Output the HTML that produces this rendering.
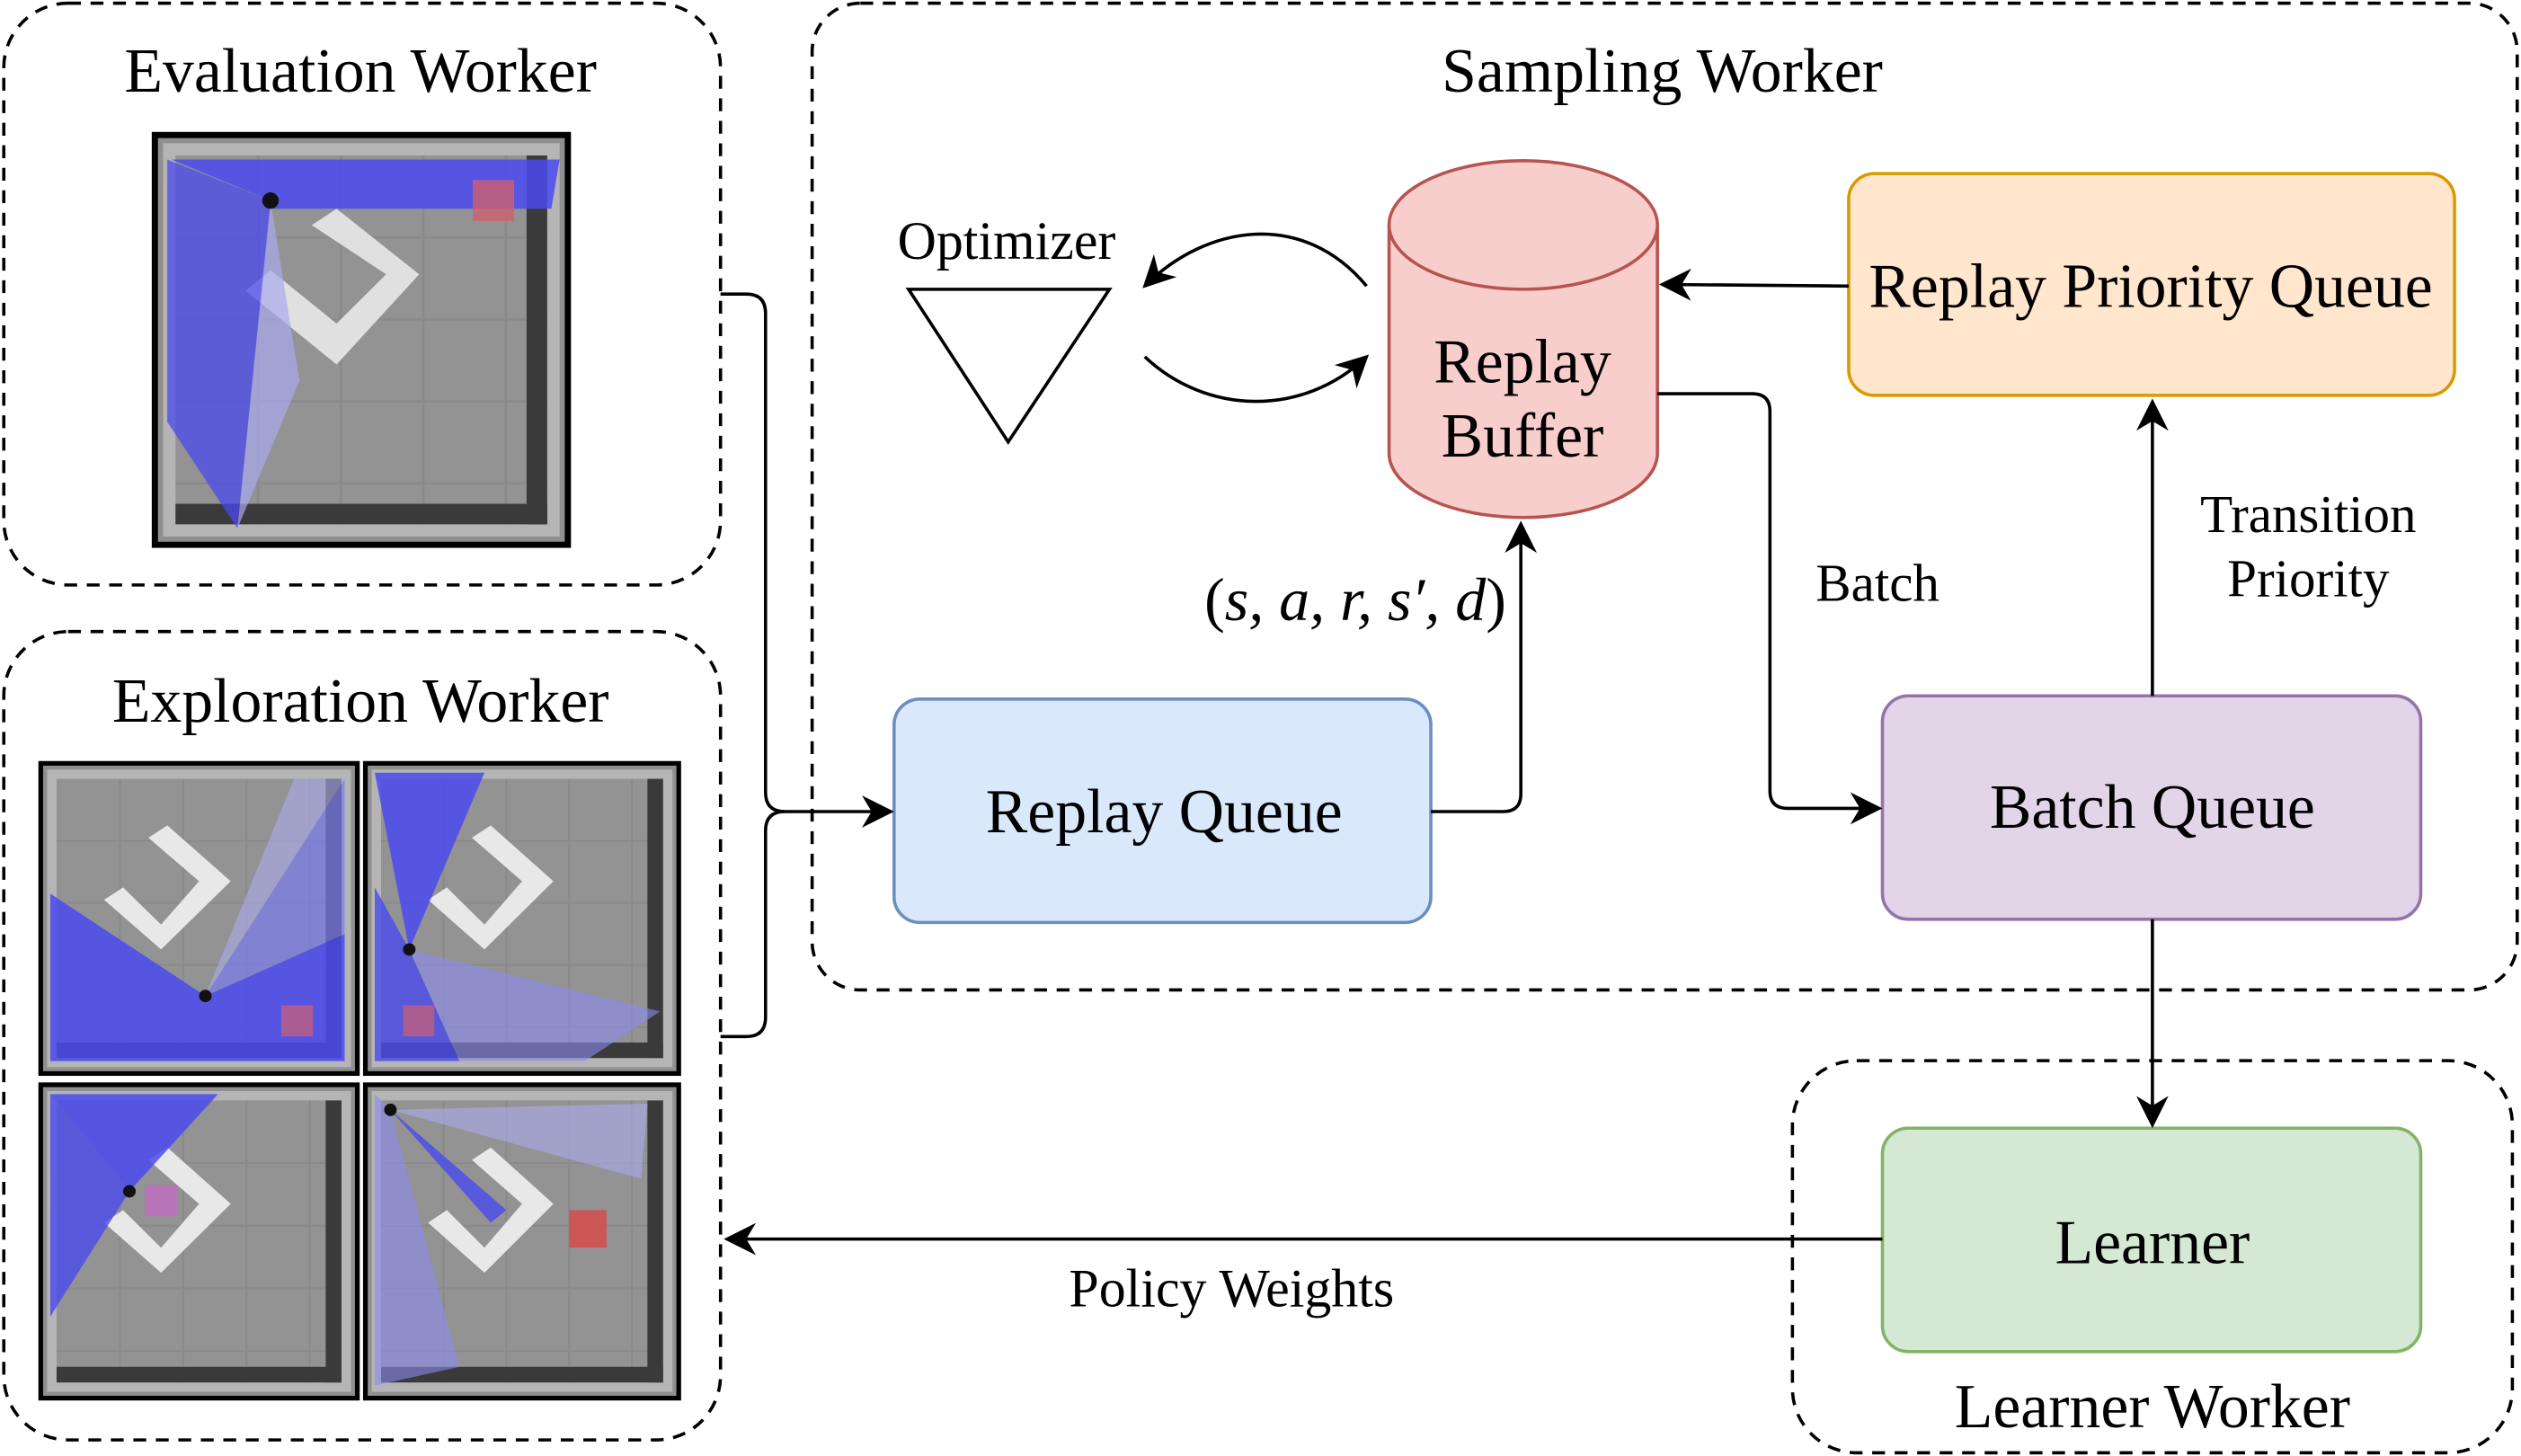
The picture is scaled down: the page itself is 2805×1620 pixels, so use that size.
<!DOCTYPE html>
<html><head><meta charset="utf-8"><style>
html,body{margin:0;padding:0;background:#fff;}
svg{display:block;}
text{font-family:"Liberation Serif",serif;fill:#000;}
</style></head><body>
<svg width="2805" height="1620" viewBox="0 0 1568 906" xmlns="http://www.w3.org/2000/svg">
<defs>
<marker id="ah2" viewBox="0 0 10 10" refX="9" refY="5" markerWidth="20" markerHeight="20" markerUnits="userSpaceOnUse" orient="auto">
<path d="M0,0 L10,5 L0,10 L3,5 z" fill="#000"/></marker>
<g id="tile">
<rect x="0" y="0" width="100" height="100" fill="#8f8f8f" stroke="#000" stroke-width="1.5"/>
<rect x="2" y="2" width="96" height="96" fill="#b5b5b5"/>
<rect x="5" y="5" width="90" height="90" fill="#939393"/>
<path d="M5,25H95M5,45H95M5,65H95M5,85H95M25,5V95M45,5V95M65,5V95M85,5V95" stroke="#8a8a8a" stroke-width="0.6"/>
<rect x="90" y="5" width="5" height="90" fill="#3a3a3a"/>
<rect x="5" y="90" width="90" height="5" fill="#3a3a3a"/>
</g>
</defs>

<g fill="none" stroke="#000" stroke-width="2" stroke-dasharray="8,6">
<rect x="2" y="2" width="446" height="362" rx="40"/>
<rect x="2" y="393" width="446" height="503" rx="40"/>
<rect x="505" y="2" width="1061" height="614" rx="30"/>
<rect x="1115" y="660" width="448" height="244" rx="40"/>
</g>

<text x="224" y="57" font-size="39" text-anchor="middle">Evaluation Worker</text>
<text x="224" y="449" font-size="39" text-anchor="middle">Exploration Worker</text>
<text x="1034" y="57" font-size="39" text-anchor="middle">Sampling Worker</text>
<text x="1339" y="888" font-size="39" text-anchor="middle">Learner Worker</text>

<g transform="translate(96,84) scale(2.57,2.55)">
<use href="#tile"/>
<path d="M44,18 L64,34 L44,56 L22,38 L28,33 L44,46 L56,34 L38,22Z" fill="#e0e0e0"/>
<polygon points="28,16 4,6 98,6 96,18 28,18" fill="#4a4aee" opacity="0.85"/>
<polygon points="28,16 3,6 3,70 20,96 28,18" fill="#4a4aee" opacity="0.75"/>
<polygon points="28,16 20,96 35,60" fill="#aaaaee" opacity="0.7"/>
<rect x="77" y="11" width="10" height="10" fill="#d06070" opacity="0.8"/>
<circle cx="28" cy="16" r="2" fill="#111"/>
</g>

<g transform="translate(25,475) scale(1.97,1.93)">
<use href="#tile"/>
<path d="M40,20 L60,38 L38,60 L20,44 L26,40 L38,52 L50,38 L34,24Z" fill="#e8e8e8"/>
<polygon points="52,75 3,42 3,96 96,96 96,55" fill="#4a4aee" opacity="0.85"/>
<polygon points="52,75 96,5 96,55" fill="#7a7aee" opacity="0.7"/>
<polygon points="52,75 80,5 96,5" fill="#aaaaee" opacity="0.6"/>
<rect x="76" y="78" width="10" height="10" fill="#d06070" opacity="0.7"/>
<circle cx="52" cy="75" r="2" fill="#111"/>
</g>
<g transform="translate(227,475) scale(1.95,1.93)">
<use href="#tile"/>
<path d="M40,20 L60,38 L38,60 L20,44 L26,40 L38,52 L50,38 L34,24Z" fill="#e8e8e8"/>
<polygon points="14,60 3,3 38,3" fill="#4a4aee" opacity="0.85"/>
<polygon points="14,60 3,40 3,96 30,96" fill="#4a4aee" opacity="0.8"/>
<polygon points="14,60 94,80 70,96 30,96" fill="#8a8aee" opacity="0.6"/>
<rect x="12" y="78" width="10" height="10" fill="#d06070" opacity="0.7"/>
<circle cx="14" cy="60" r="2" fill="#111"/>
</g>
<g transform="translate(25,675) scale(1.97,1.95)">
<use href="#tile"/>
<path d="M40,20 L60,38 L38,60 L20,44 L26,40 L38,52 L50,38 L34,24Z" fill="#e8e8e8"/>
<polygon points="28,34 3,3 56,3" fill="#4a4aee" opacity="0.85"/>
<polygon points="28,34 3,3 3,74" fill="#4a4aee" opacity="0.8"/>
<rect x="33" y="32" width="10" height="10" fill="#d060d0" opacity="0.6"/>
<circle cx="28" cy="34" r="2" fill="#111"/>
</g>
<g transform="translate(227,675) scale(1.95,1.95)">
<use href="#tile"/>
<path d="M40,20 L60,38 L38,60 L20,44 L26,40 L38,52 L50,38 L34,24Z" fill="#e8e8e8"/>
<polygon points="8,8 3,3 3,96 30,90" fill="#8a8aee" opacity="0.6"/>
<polygon points="8,8 90,6 88,30" fill="#aaaaee" opacity="0.6"/>
<polygon points="8,8 45,40 40,44" fill="#4a4aee" opacity="0.8"/>
<rect x="65" y="40" width="12" height="12" fill="#d05050" opacity="0.9"/>
<circle cx="8" cy="8" r="2" fill="#111"/>
</g>

<rect x="556" y="435" width="334" height="139" rx="16" fill="#dae8fc" stroke="#6c8ebf" stroke-width="2"/>
<text x="724" y="518" font-size="39" text-anchor="middle">Replay Queue</text>
<rect x="1171" y="433" width="335" height="139" rx="16" fill="#e1d5e7" stroke="#9673a6" stroke-width="2"/>
<text x="1339" y="515" font-size="39" text-anchor="middle">Batch Queue</text>
<rect x="1150" y="108" width="377" height="138" rx="16" fill="#ffe6cc" stroke="#d79b00" stroke-width="2"/>
<text x="1338" y="191" font-size="39" text-anchor="middle">Replay Priority Queue</text>
<rect x="1171" y="702" width="335" height="139" rx="16" fill="#d5e8d4" stroke="#82b366" stroke-width="2"/>
<text x="1339" y="786" font-size="39" text-anchor="middle">Learner</text>

<path d="M864,140 L864,282 A83.5,40 0 0 0 1031,282 L1031,140" fill="#f8cecc" stroke="#b85450" stroke-width="2"/>
<ellipse cx="947.5" cy="140" rx="83.5" ry="40" fill="#f8cecc" stroke="#b85450" stroke-width="2"/>
<text x="947" y="238" font-size="39" text-anchor="middle">Replay</text>
<text x="947" y="284" font-size="39" text-anchor="middle">Buffer</text>

<text x="626" y="161" font-size="33.5" text-anchor="middle">Optimizer</text>
<polygon points="565,180 690,180 627,275" fill="none" stroke="#000" stroke-width="2"/>
<g fill="none" stroke="#000" stroke-width="2">
<path d="M850,178 C810,130 750,140 712,178" marker-end="url(#ah2)"/>
<path d="M712,222 C750,258 810,260 850,222" marker-end="url(#ah2)"/>
<path d="M1150,178 L1034,177" marker-end="url(#ah2)"/>
<path d="M1031,245 L1090,245 Q1101,245 1101,256 L1101,492 Q1101,503 1112,503 L1169,503" marker-end="url(#ah2)"/>
<path d="M890,505 L935,505 Q946,505 946,494 L946,326" marker-end="url(#ah2)"/>
<path d="M1339,433 L1339,250" marker-end="url(#ah2)"/>
<path d="M1339,572 L1339,700" marker-end="url(#ah2)"/>
<path d="M1171,771 L452,771" marker-end="url(#ah2)"/>
<path d="M448,183 L464,183 Q476,183 476,195 L476,493 Q476,505 488,505 L554,505" marker-end="url(#ah2)"/>
<path d="M448,645 L464,645 Q476,645 476,633 L476,517 Q476,505 488,505"/>
</g>

<text x="843" y="386" font-size="38" text-anchor="middle"><tspan>(</tspan><tspan font-style="italic">s, a, r, s′, d</tspan><tspan>)</tspan></text>
<text x="1168" y="374" font-size="33" text-anchor="middle">Batch</text>
<text x="1436" y="331" font-size="33" text-anchor="middle">Transition</text>
<text x="1436" y="371" font-size="33" text-anchor="middle">Priority</text>
<text x="766" y="813" font-size="33.5" text-anchor="middle">Policy Weights</text>
</svg>
</body></html>
